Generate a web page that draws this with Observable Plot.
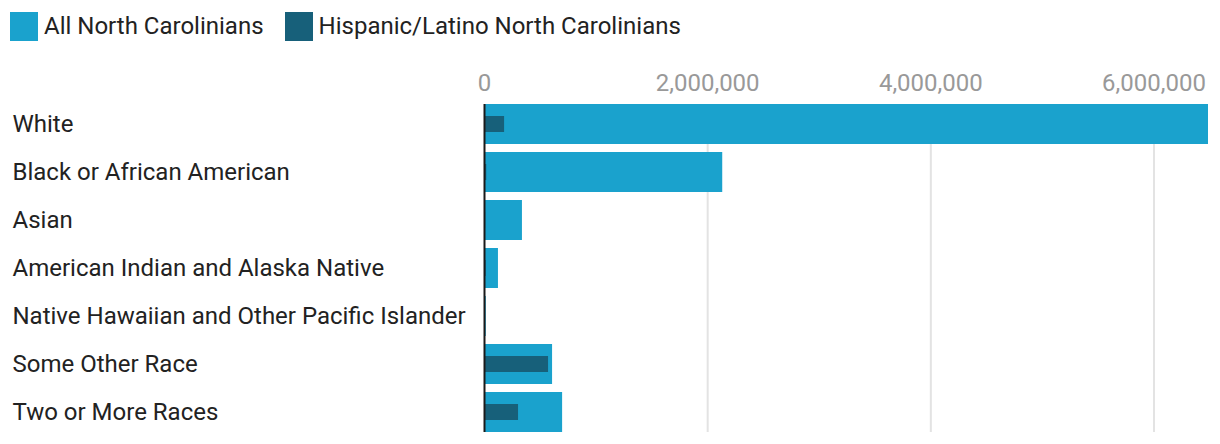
<!DOCTYPE html>
<html><head><meta charset="utf-8">
<script src="https://cdn.jsdelivr.net/npm/d3@7"></script>
<script src="https://cdn.jsdelivr.net/npm/@observablehq/plot@0.6"></script>
<style>
body{margin:0;background:#fff;font-family:Roboto,sans-serif;}
#legend{height:52px;box-sizing:border-box;padding:12px 0 0 10px;display:flex;align-items:flex-start;}
.item{display:flex;align-items:center;height:29px;margin-right:21px;}
.sw{width:28px;height:29px;margin-right:6px;}
.lab{font-size:24px;color:#222;line-height:29px;}
svg{display:block;}
</style></head>
<body>
<div id="legend"></div>
<div id="chart"></div>
<script>
const categories = ["White","Black or African American","Asian","American Indian and Alaska Native","Native Hawaiian and Other Pacific Islander","Some Other Race","Two or More Races"];
const allNC = [6488459, 2135000, 340000, 125000, 16000, 610000, 700000];
const hispanicNC = [180000, 20000, 10000, 15000, 4000, 574000, 305000];
const seriesNames = ["All North Carolinians","Hispanic/Latino North Carolinians"];
const seriesColors = ["#1aa2cd","#17607a"];
const xTicks = [0, 2000000, 4000000, 6000000];

const legend = document.getElementById("legend");
seriesNames.forEach((n,i)=>{
  const it = document.createElement("div"); it.className="item";
  const sw = document.createElement("div"); sw.className="sw"; sw.style.background=seriesColors[i];
  const lb = document.createElement("div"); lb.className="lab"; lb.textContent=n;
  it.appendChild(sw); it.appendChild(lb); legend.appendChild(it);
});

const rows = categories.map((c,i)=>({cat:c, all:allNC[i], hisp:hispanicNC[i]}));

const chart = Plot.plot({
  width: 1220,
  height: 392,
  marginTop: 52,
  marginBottom: 12,
  marginLeft: 484,
  marginRight: 12,
  style: {fontFamily: "Roboto, sans-serif", fontSize: "24px", color: "#222", background: "#fff"},
  x: {domain: [0, d3.max(allNC)], axis: null},
  y: {domain: categories, type: "band", paddingInner: 8/48, paddingOuter: 0, axis: null},
  marks: [
    Plot.ruleX(xTicks.filter(d=>d>0), {stroke: "#e3e3e3", strokeWidth: 2}),
    Plot.barX(rows, {y: "cat", x: "all", fill: seriesColors[0]}),
    Plot.barX(rows, {y: "cat", x: "hisp", fill: seriesColors[1], insetTop: 12, insetBottom: 12}),
    Plot.ruleX([0], {stroke: "#1a1a1a", strokeWidth: 2}),
    Plot.axisX({anchor: "top", ticks: xTicks, tickFormat: d3.format(","), tickSize: 0, tickPadding: 14, fill: "#999", label: null}),
    Plot.text(categories, {y: d=>d, text: d=>d, frameAnchor: "left", dx: -472, textAnchor: "start", fill: "#222"})
  ]
});
document.getElementById("chart").appendChild(chart);
</script>
</body></html>
